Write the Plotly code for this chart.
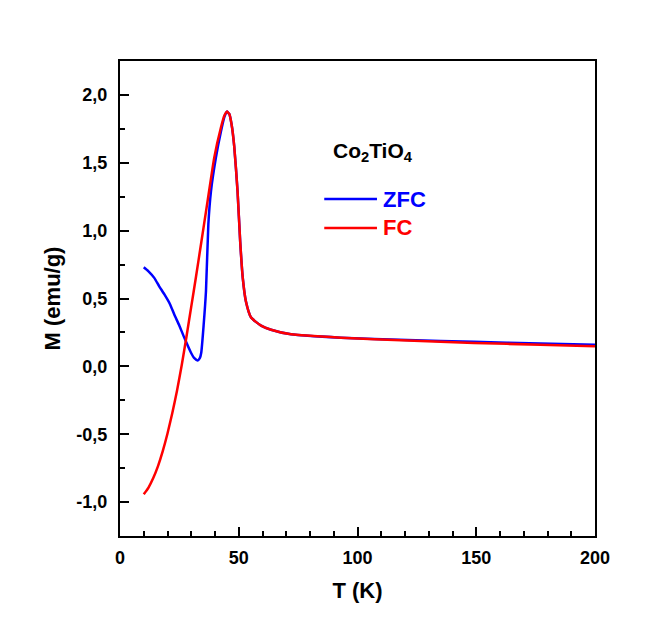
import plotly.graph_objects as go

# ZFC branch
t_zfc = [10, 12, 14.5, 16.5, 18.7, 21, 22.9, 25, 27.1, 29.9, 31.3, 32.7, 33.6, 34.2,
         35.2, 36.2, 37.2, 38.3, 40.4, 42.5, 44, 45, 46, 47, 48.1, 49.5, 50.6, 51.7,
         53, 55.2, 59.4, 63.6, 72, 93, 121, 149, 177, 200]
m_zfc = [0.73, 0.70, 0.65, 0.59, 0.53, 0.46, 0.38, 0.30, 0.21, 0.10, 0.06, 0.044, 0.06, 0.10,
         0.30, 0.555, 1.047, 1.29, 1.54, 1.73, 1.84, 1.877, 1.86, 1.78, 1.62, 1.29, 0.92, 0.65,
         0.48, 0.36, 0.30, 0.27, 0.236, 0.211, 0.194, 0.181, 0.168, 0.16]

# FC branch
t_fc = [10, 12, 14, 16, 18, 20, 22, 24, 26, 28, 30, 32, 34.1,
        36.9, 39.7, 42.5, 44, 45, 46, 47, 48.1, 49.5, 50.6, 51.7, 53, 55.2, 59.4, 63.6,
        72, 93, 121, 149, 177, 200]
m_fc = [-0.943, -0.893, -0.823, -0.735, -0.625, -0.495, -0.345, -0.18, 0.01, 0.22, 0.44, 0.66, 0.90,
        1.22, 1.54, 1.76, 1.85, 1.877, 1.86, 1.78, 1.62, 1.29, 0.92, 0.65, 0.48, 0.36, 0.30, 0.27,
        0.236, 0.211, 0.191, 0.173, 0.159, 0.148]

y_ticks = [-1.0, -0.5, 0.0, 0.5, 1.0, 1.5, 2.0]
y_ticktext = ["-1,0", "-0,5", "0,0", "0,5", "1,0", "1,5", "2,0"]

FONT = "Liberation Sans, Arial, Helvetica, sans-serif"
BLUE = "#0000ff"
RED = "#ff0000"

fig = go.Figure()
fig.add_trace(go.Scatter(x=t_zfc, y=m_zfc, mode="lines", name="ZFC",
                         line=dict(color=BLUE, width=2.5, shape="spline", smoothing=0.5)))
fig.add_trace(go.Scatter(x=t_fc, y=m_fc, mode="lines", name="FC",
                         line=dict(color=RED, width=2.5, shape="spline", smoothing=0.5)))

axis_common = dict(
    showline=True, linecolor="black", linewidth=2, mirror=True,
    ticks="inside", ticklen=9, tickwidth=2, tickcolor="black",
    showgrid=False, zeroline=False, automargin=False,
    tickfont=dict(family=FONT, size=18, color="black", weight="bold"),
)
title_font = dict(family=FONT, size=22, color="black", weight="bold")

fig.update_xaxes(range=[0, 200], dtick=50, ticklabelstandoff=4,
                 minor=dict(ticks="inside", ticklen=5, tickwidth=2, tickcolor="black", dtick=10),
                 title=dict(text="T (K)", font=title_font, standoff=16),
                 **axis_common)
fig.update_yaxes(range=[-1.25, 2.25], tickvals=y_ticks, ticktext=y_ticktext, ticklabelstandoff=7,
                 minor=dict(ticks="inside", ticklen=5, tickwidth=2, tickcolor="black",
                            tick0=0, dtick=0.25),
                 title=dict(text="M (emu/g)", font=title_font, standoff=10),
                 **axis_common)

# compound label and hand-made legend, in data coordinates
fig.add_annotation(x=106.5, y=1.58, xref="x", yref="y", yanchor="middle",
                   text="Co<sub>2</sub>TiO<sub>4</sub>", showarrow=False,
                   font=dict(family=FONT, size=21, color="black", weight="bold"))
for name, color, yv in [("ZFC", BLUE, 1.233), ("FC", RED, 1.02)]:
    fig.add_shape(type="line", xref="x", yref="y", x0=86, x1=108.2, y0=yv, y1=yv,
                  line=dict(color=color, width=2.5))
    fig.add_annotation(x=109.9, y=yv, xref="x", yref="y", xanchor="left", yanchor="middle",
                       text=name, showarrow=False,
                       font=dict(family=FONT, size=22, color=color, weight="bold"))

# the page puts the figure about 7px in from the corner
fig.update_layout(
    width=654, height=625,
    margin=dict(l=112, r=67, t=53, b=97),
    paper_bgcolor="white", plot_bgcolor="white",
    showlegend=False,
)

fig.write_html("out.html")
